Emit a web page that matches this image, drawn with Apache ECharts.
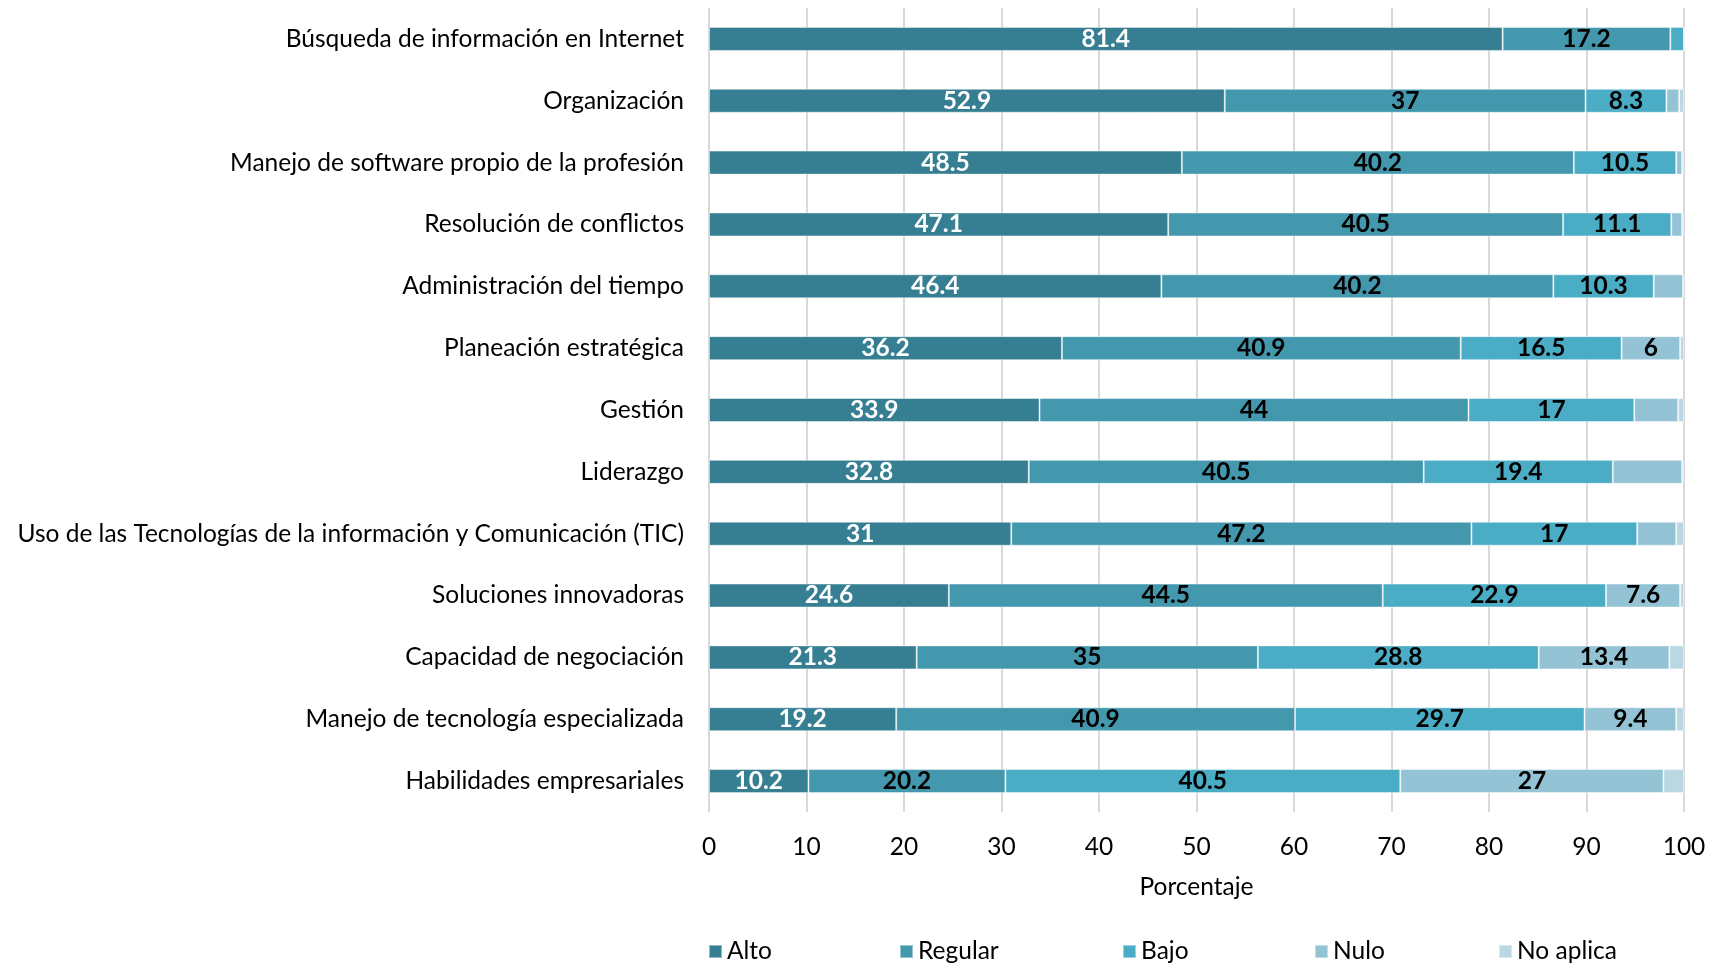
<!DOCTYPE html>
<html>
<head>
<meta charset="utf-8">
<script src="https://cdn.jsdelivr.net/npm/echarts@6/dist/echarts.min.js"></script>
<style>
    html, body { margin: 0; padding: 0; background: #fff; }
    #chart { width: 1721px; height: 965px; }
</style>
</head>
<body>
<div id="chart"></div>
<script>
// categorías (de arriba hacia abajo)
const categories = [
    'Búsqueda de información en Internet',
    'Organización',
    'Manejo de software propio de la profesión',
    'Resolución de conflictos',
    'Administración del tiempo',
    'Planeación estratégica',
    'Gestión',
    'Liderazgo',
    'Uso de las Tecnologías de la información y Comunicación (TIC)',
    'Soluciones innovadoras',
    'Capacidad de negociación',
    'Manejo de tecnología especializada',
    'Habilidades empresariales'
];

const seriesNames = ['Alto', 'Regular', 'Bajo', 'Nulo', 'No aplica'];

const alto     = [81.4, 52.9, 48.5, 47.1, 46.4, 36.2, 33.9, 32.8, 31.0, 24.6, 21.3, 19.2, 10.2];
const regular  = [17.2, 37.0, 40.2, 40.5, 40.2, 40.9, 44.0, 40.5, 47.2, 44.5, 35.0, 40.9, 20.2];
const bajo     = [1.4, 8.3, 10.5, 11.1, 10.3, 16.5, 17.0, 19.4, 17.0, 22.9, 28.8, 29.7, 40.5];
const nulo     = [0, 1.3, 0.6, 1.1, 3.0, 6.0, 4.5, 7.1, 4.0, 7.6, 13.4, 9.4, 27.0];
const noAplica = [0, 0.5, 0.2, 0.2, 0.1, 0.4, 0.6, 0.2, 0.8, 0.4, 1.5, 0.8, 2.1];

// segmentos sin etiqueta en el original
const hiddenLabels = ['Nulo|Liderazgo'];

const colors = ['#367f92', '#4398ae', '#4bacc6', '#93c3d4', '#b9d8e4'];
const legendLeft = [708, 899, 1122, 1314, 1498];

const FONT = 'Lato';
const SIZE = 24.5;

const chart = echarts.init(document.getElementById('chart'));

const values = [alto, regular, bajo, nulo, noAplica];

const series = seriesNames.map((name, i) => ({
    name: name,
    type: 'bar',
    stack: 'total',
    barWidth: 24,
    data: values[i],
    itemStyle: {
        color: colors[i],
        borderColor: 'rgba(255,255,255,0.45)',
        borderWidth: 1
    },
    label: {
        show: true,
        position: 'inside',
        fontFamily: FONT,
        fontSize: SIZE,
        fontWeight: 'bold',
        color: i === 0 ? '#fff' : '#000',
        formatter: p => {
            if (p.value < 5.5) return '';
            if (hiddenLabels.indexOf(name + '|' + p.name) >= 0) return '';
            return String(p.value);
        }
    }
}));

const legends = seriesNames.map((name, i) => ({
    data: [name],
    left: legendLeft[i],
    top: 939,
    padding: 0,
    itemWidth: 13,
    itemHeight: 13,
    icon: 'rect',
    textStyle: { fontFamily: FONT, fontSize: SIZE, color: '#000' }
}));

const option = {
    animation: false,
    color: colors,
    grid: { left: 709, right: 37, top: 8, bottom: 153 },
    legend: legends,
    xAxis: {
        type: 'value',
        min: 0,
        max: 100,
        interval: 10,
        name: 'Porcentaje',
        nameLocation: 'middle',
        nameGap: 63,
        nameTextStyle: { fontFamily: FONT, fontSize: SIZE, color: '#000' },
        axisLine: { show: false },
        axisTick: { show: false },
        axisLabel: { fontFamily: FONT, fontSize: SIZE, color: '#000', margin: 23 },
        splitLine: { show: true, lineStyle: { color: '#d9d9d9', width: 2 } }
    },
    yAxis: {
        type: 'category',
        inverse: true,
        data: categories,
        axisLine: { show: false },
        axisTick: { show: false },
        axisLabel: { fontFamily: FONT, fontSize: SIZE, color: '#000', margin: 25 }
    },
    series: series
};

chart.setOption(option);
</script>
</body>
</html>
